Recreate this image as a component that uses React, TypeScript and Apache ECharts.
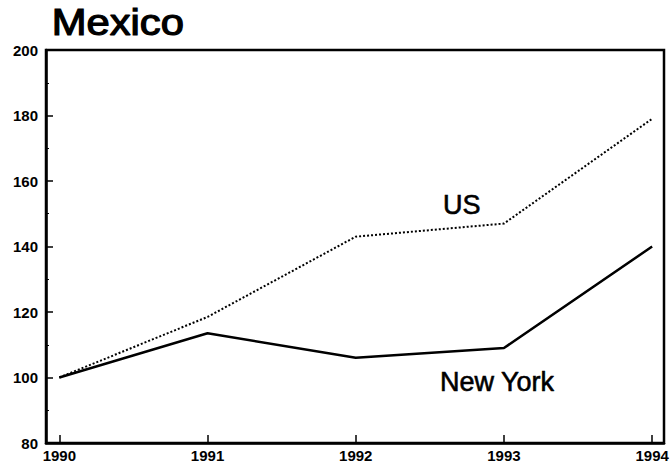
import React, { useEffect, useRef } from "react";
import * as echarts from "echarts";

const years = [1990, 1991, 1992, 1993, 1994];
const usValues = [100, 118.5, 143, 147, 179];
const newYorkValues = [100, 113.5, 106, 109, 140];
const yTicks = [80, 100, 120, 140, 160, 180, 200];
const title = "Mexico";
const usLabel = "US";
const nyLabel = "New York";

const FONT = "'Liberation Sans', Arial, Helvetica, sans-serif";

export default function App() {
  const ref = useRef<HTMLDivElement>(null);
  useEffect(() => {
    if (!ref.current) return;
    const chart = echarts.init(ref.current, null, { renderer: "svg" });
    chart.setOption({
      animation: false,
      backgroundColor: "#ffffff",
      grid: {
        left: 46,
        right: 8,
        top: 50,
        bottom: 23,
        show: true,
        borderColor: "#000",
        borderWidth: 2.5,
        containLabel: false,
      },
      xAxis: {
        type: "value",
        min: 1989.91,
        max: 1994.08,
        axisLine: { show: true, lineStyle: { color: "#000", width: 2.5 } },
        axisTick: {
          show: true,
          inside: true,
          length: 8,
          lineStyle: { color: "#000", width: 1.5 },
          customValues: years,
        },
        axisLabel: {
          customValues: years,
          formatter: (v: number) => String(Math.round(v)),
          color: "#000",
          fontFamily: FONT,
          fontWeight: "bold",
          fontSize: 15,
          margin: 5,
        },
        splitLine: { show: false },
      },
      yAxis: {
        type: "value",
        min: yTicks[0],
        max: yTicks[yTicks.length - 1],
        interval: 20,
        axisLine: { show: true, lineStyle: { color: "#000", width: 2.5 } },
        axisTick: {
          show: true,
          inside: true,
          length: 7,
          lineStyle: { color: "#000", width: 1.5 },
        },
        minorTick: {
          show: true,
          splitNumber: 2,
          length: 3,
          lineStyle: { color: "#000", width: 1 },
        },
        axisLabel: {
          color: "#000",
          fontFamily: FONT,
          fontWeight: "bold",
          fontSize: 15,
          margin: 8,
        },
        splitLine: { show: false },
      },
      series: [
        {
          name: usLabel,
          type: "line",
          data: years.map((y, i) => [y, usValues[i]]),
          showSymbol: false,
          lineStyle: { color: "#000", width: 2, type: [2, 2] },
        },
        {
          name: nyLabel,
          type: "line",
          data: years.map((y, i) => [y, newYorkValues[i]]),
          showSymbol: false,
          lineStyle: { color: "#000", width: 2.5 },
        },
      ],
      graphic: [
        {
          type: "text",
          left: 51,
          top: 4,
          scaleX: 1.16,
          style: {
            text: title,
            font: `36px ${FONT}`,
            fill: "#000",
            stroke: "#000",
            lineWidth: 1.2,
          },
        },
        {
          type: "text",
          x: 443,
          y: 191,
          style: {
            text: usLabel,
            font: `27px ${FONT}`,
            fill: "#000",
            stroke: "#000",
            lineWidth: 0.6,
          },
        },
        {
          type: "text",
          x: 440,
          y: 368,
          style: {
            text: nyLabel,
            font: `27px ${FONT}`,
            fill: "#000",
            stroke: "#000",
            lineWidth: 0.6,
          },
        },
      ],
    });
    return () => chart.dispose();
  }, []);
  return (
    <div
      ref={ref}
      style={{ position: "fixed", left: 0, top: 0, width: 672, height: 466 }}
    />
  );
}
